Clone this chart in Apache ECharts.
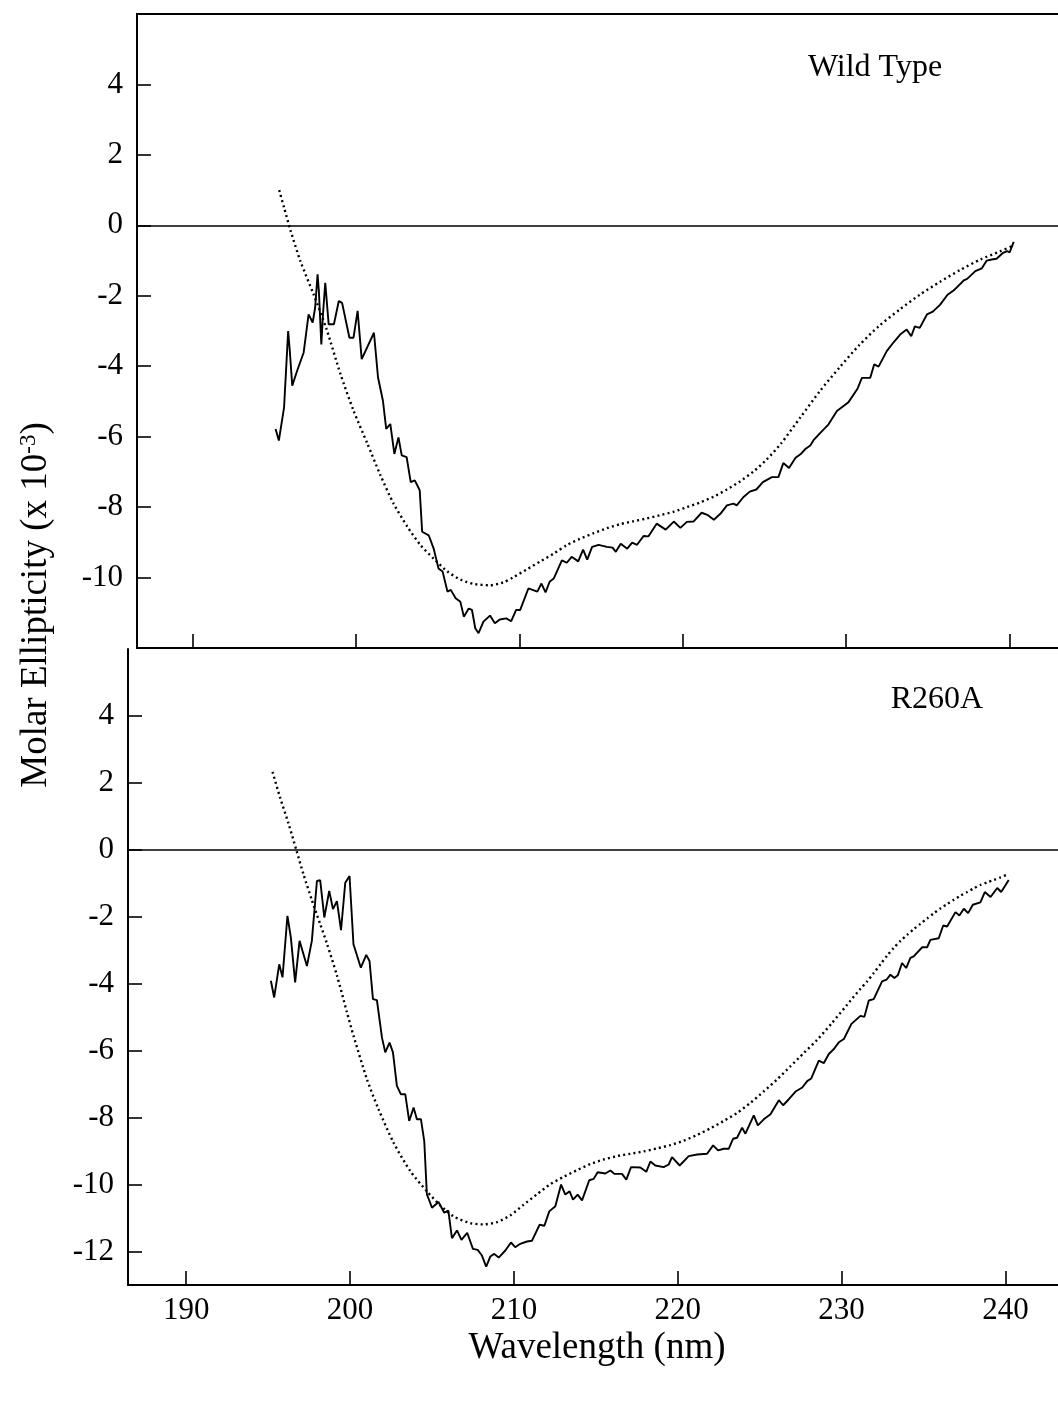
<!DOCTYPE html>
<html>
<head>
<meta charset="utf-8">
<title>CD spectra</title>
<script src="https://cdn.jsdelivr.net/npm/echarts@6/dist/echarts.min.js"></script>
<style>
  html, body { margin: 0; padding: 0; background: #fff; }
  #chart { width: 1058px; height: 1401px; }
</style>
</head>
<body>
<div id="chart"></div>
<script>
// Wavelength ticks (nm) shared by both panels
const wavelengthTicks = [190, 200, 210, 220, 230, 240];
const wildTypeTicks = [4, 2, 0, -2, -4, -6, -8, -10];
const r260aTicks = [4, 2, 0, -2, -4, -6, -8, -10, -12];
const panelNames = ['Wild Type', 'R260A'];

// Wild type: measured spectrum [nm, molar ellipticity x 10^-3]
const wildTypeMeasured = [
  [195.08,-5.78],[195.28,-6.11],[195.6,-5.17],[195.85,-3.0],[195.95,-3.56],[196.1,-4.55],
  [196.4,-4.13],[196.8,-3.61],[197.1,-2.53],[197.35,-2.76],[197.5,-2.34],[197.65,-1.39],
  [197.73,-1.87],[197.88,-3.38],[197.98,-2.53],[198.12,-1.63],[198.33,-2.81],[198.65,-2.81],
  [198.95,-2.15],[199.15,-2.2],[199.6,-3.19],[199.85,-3.19],[200.1,-2.43],[200.35,-3.8],
  [201.1,-3.05],[201.35,-4.32],[201.65,-4.98],[201.85,-5.78],[202.1,-5.64],[202.35,-6.49],
  [202.6,-6.02],[202.8,-6.53],[203.1,-6.58],[203.35,-7.29],[203.6,-7.24],[203.9,-7.52],
  [204.05,-8.7],[204.45,-8.8],[204.75,-9.17],[205.05,-9.74],[205.3,-9.83],[205.6,-10.4],
  [205.8,-10.35],[206.1,-10.59],[206.39,-10.69],[206.6,-11.11],[206.9,-10.88],[207.1,-10.92],
  [207.3,-11.44],[207.5,-11.58],[207.8,-11.25],[208.2,-11.08],[208.5,-11.3],[208.8,-11.19],
  [209.2,-11.16],[209.5,-11.24],[209.8,-10.92],[210.05,-10.92],[210.55,-10.31],[211.1,-10.4],
  [211.35,-10.17],[211.6,-10.42],[211.85,-10.12],[212.1,-10.03],[212.6,-9.51],[212.9,-9.58],
  [213.2,-9.41],[213.6,-9.54],[213.9,-9.21],[214.15,-9.49],[214.45,-9.13],[214.85,-9.07],
  [215.35,-9.13],[215.7,-9.15],[215.9,-9.27],[216.2,-9.04],[216.6,-9.18],[216.9,-9.01],
  [217.2,-9.07],[217.6,-8.82],[217.9,-8.83],[218.4,-8.47],[218.95,-8.64],[219.45,-8.41],
  [219.85,-8.59],[220.25,-8.42],[220.65,-8.41],[221.15,-8.16],[221.5,-8.22],[221.9,-8.36],
  [222.3,-8.19],[222.7,-7.95],[223.1,-7.9],[223.3,-7.95],[223.7,-7.72],[224.1,-7.56],
  [224.5,-7.5],[224.9,-7.29],[225.45,-7.15],[225.85,-7.15],[226.15,-6.75],[226.5,-6.89],
  [226.9,-6.6],[227.2,-6.5],[227.5,-6.35],[227.8,-6.25],[228.0,-6.1],[228.4,-5.9],
  [228.92,-5.65],[229.43,-5.27],[230.14,-5.02],[230.69,-4.64],[230.96,-4.33],[231.47,-4.33],
  [231.71,-3.95],[231.98,-4.01],[232.48,-3.57],[232.9,-3.32],[233.3,-3.1],[233.7,-2.96],
  [233.98,-3.15],[234.2,-2.87],[234.5,-2.91],[234.94,-2.53],[235.3,-2.45],[235.75,-2.25],
  [236.2,-1.97],[236.57,-1.85],[236.77,-1.76],[237.2,-1.56],[237.4,-1.52],[237.9,-1.3],
  [238.3,-1.22],[238.6,-1.0],[238.9,-0.97],[239.2,-0.95],[239.6,-0.78],[239.85,-0.73],
  [240.0,-0.77],[240.25,-0.47]
];

// Wild type: fitted curve
const wildTypeFit = [
  [195.3,1.0],[195.6,0.5],[196.0,-0.15],[196.6,-1.02],[197.4,-1.95],[198.2,-2.95],
  [199.05,-4.22],[199.85,-5.26],[200.7,-6.2],[201.5,-7.1],[202.3,-7.9],[203.15,-8.56],
  [203.95,-9.08],[204.75,-9.46],[205.6,-9.83],[206.4,-10.06],[207.2,-10.18],[208.2,-10.22],
  [209.0,-10.14],[209.6,-10.0],[210.45,-9.77],[211.25,-9.55],[212.1,-9.32],[212.9,-9.08],
  [213.7,-8.9],[214.55,-8.74],[215.35,-8.6],[216.2,-8.48],[217.0,-8.4],[217.8,-8.32],
  [218.6,-8.23],[219.45,-8.13],[220.25,-8.0],[221.1,-7.86],[221.9,-7.7],[222.7,-7.5],
  [223.5,-7.27],[224.35,-6.98],[225.15,-6.64],[226.0,-6.2],[227.2,-5.45],[228.4,-4.7],
  [229.6,-4.03],[230.8,-3.4],[232.0,-2.86],[233.3,-2.38],[234.5,-1.97],[235.75,-1.6],
  [237.0,-1.26],[238.2,-0.97],[239.4,-0.74],[240.2,-0.58]
];

// R260A: measured spectrum
const r260aMeasured = [
  [195.17,-3.91],[195.37,-4.41],[195.68,-3.42],[195.88,-3.81],[196.18,-1.97],[196.39,-2.62],
  [196.65,-3.96],[196.92,-2.72],[197.37,-3.47],[197.67,-2.72],[197.98,-0.93],[198.18,-0.91],
  [198.43,-2.02],[198.73,-1.23],[198.96,-1.77],[199.2,-1.53],[199.45,-2.4],[199.71,-0.98],
  [199.97,-0.78],[200.21,-2.82],[200.66,-3.52],[200.99,-3.14],[201.19,-3.32],[201.4,-4.46],
  [201.64,-4.49],[201.95,-5.61],[202.15,-6.05],[202.41,-5.76],[202.62,-6.05],[202.86,-7.05],
  [203.1,-7.3],[203.37,-7.3],[203.61,-8.1],[203.88,-7.7],[204.08,-8.05],[204.33,-8.05],
  [204.53,-8.7],[204.69,-10.29],[204.85,-10.49],[205.0,-10.69],[205.4,-10.52],[205.75,-10.84],
  [206.0,-10.78],[206.22,-11.6],[206.53,-11.37],[206.8,-11.65],[207.15,-11.44],[207.5,-11.92],
  [207.79,-11.95],[208.05,-12.12],[208.31,-12.45],[208.56,-12.15],[208.8,-12.07],[209.07,-12.18],
  [209.48,-11.97],[209.82,-11.73],[210.08,-11.87],[210.39,-11.77],[210.8,-11.7],[211.1,-11.68],
  [211.57,-11.2],[211.86,-11.23],[212.16,-10.8],[212.53,-10.65],[212.88,-10.0],[213.14,-10.3],
  [213.4,-10.2],[213.61,-10.45],[213.89,-10.3],[214.16,-10.47],[214.6,-9.87],[214.87,-9.83],
  [215.11,-9.63],[215.58,-9.67],[215.89,-9.58],[216.13,-9.68],[216.6,-9.68],[216.86,-9.85],
  [217.15,-9.48],[217.72,-9.49],[218.08,-9.62],[218.33,-9.31],[218.63,-9.43],[219.14,-9.48],
  [219.45,-9.4],[219.65,-9.18],[220.12,-9.43],[220.67,-9.15],[221.18,-9.1],[221.79,-9.08],
  [222.16,-8.83],[222.46,-8.98],[222.81,-8.93],[223.11,-8.93],[223.38,-8.63],[223.62,-8.6],
  [223.93,-8.3],[224.13,-8.48],[224.64,-7.93],[224.89,-8.23],[225.25,-8.05],[225.66,-7.9],
  [226.17,-7.48],[226.43,-7.63],[226.78,-7.45],[227.19,-7.22],[227.6,-7.1],[227.9,-6.91],
  [228.15,-6.83],[228.61,-6.3],[228.92,-6.37],[229.22,-6.1],[229.53,-5.95],[229.83,-5.75],
  [230.14,-5.65],[230.6,-5.2],[231.15,-4.96],[231.39,-4.99],[231.66,-4.5],[231.96,-4.46],
  [232.47,-3.93],[232.74,-3.88],[232.98,-3.73],[233.22,-3.83],[233.43,-3.75],[233.69,-3.38],
  [233.94,-3.53],[234.2,-3.23],[234.4,-3.18],[234.92,-2.91],[235.22,-2.91],[235.42,-2.69],
  [235.93,-2.64],[236.2,-2.26],[236.44,-2.29],[236.95,-1.86],[237.19,-1.96],[237.46,-1.76],
  [237.72,-1.89],[238.01,-1.64],[238.47,-1.57],[238.74,-1.26],[239.09,-1.41],[239.5,-1.14],
  [239.74,-1.26],[240.0,-1.06],[240.2,-0.9]
];

// R260A: fitted curve
const r260aFit = [
  [195.27,2.33],[195.74,1.55],[196.25,0.78],[196.72,0.0],[197.16,-0.73],[197.67,-1.5],
  [198.18,-2.22],[198.59,-2.8],[199.2,-3.75],[199.81,-4.85],[200.21,-5.55],[201.03,-6.85],
  [201.74,-7.75],[202.66,-8.75],[203.68,-9.6],[204.69,-10.2],[205.5,-10.62],[206.32,-10.95],
  [207.34,-11.15],[208.15,-11.19],[208.97,-11.12],[209.78,-10.92],[210.6,-10.6],[211.41,-10.29],
  [212.22,-9.99],[213.03,-9.77],[213.85,-9.57],[214.66,-9.39],[215.48,-9.25],[216.29,-9.15],
  [217.1,-9.08],[217.92,-9.01],[218.73,-8.92],[219.55,-8.82],[220.36,-8.69],[221.17,-8.52],
  [221.99,-8.32],[222.8,-8.1],[223.62,-7.86],[224.43,-7.56],[225.24,-7.22],[226.06,-6.86],
  [226.87,-6.47],[227.69,-6.07],[228.5,-5.68],[229.4,-5.18],[230.3,-4.65],[231.15,-4.15],
  [231.56,-3.93],[231.96,-3.68],[232.37,-3.42],[232.78,-3.16],[233.18,-2.93],[233.59,-2.72],
  [234.0,-2.54],[234.4,-2.37],[234.81,-2.21],[235.22,-2.05],[235.62,-1.9],[236.03,-1.75],
  [236.44,-1.62],[236.85,-1.49],[237.25,-1.37],[237.66,-1.26],[238.07,-1.15],[238.47,-1.05],
  [238.88,-0.97],[239.29,-0.9],[239.7,-0.82],[240.04,-0.75]
];

const SERIF = '"Liberation Serif", "Times New Roman", serif';
const INK = '#000';

function xAxisFor(gridIndex, min, showLabels) {
  return {
    type: 'value', gridIndex: gridIndex, min: min, max: 244,
    splitLine: { show: false },
    axisLine: { show: true, onZero: false, lineStyle: { color: INK, width: 2 } },
    axisTick: { show: true, inside: true, length: 14, customValues: wavelengthTicks,
                lineStyle: { color: INK, width: 1.6 } },
    axisLabel: { show: showLabels, customValues: wavelengthTicks, margin: 10,
                 color: INK, fontFamily: SERIF, fontSize: 31 }
  };
}

function yAxisFor(gridIndex, min, ticks) {
  return {
    type: 'value', gridIndex: gridIndex, min: min, max: 6,
    splitLine: { show: false },
    axisLine: { show: true, lineStyle: { color: INK, width: 2 } },
    axisTick: { show: true, inside: true, length: 14, customValues: ticks,
                lineStyle: { color: INK, width: 1.6 } },
    axisLabel: { customValues: ticks, margin: 14, color: INK,
                 fontFamily: SERIF, fontSize: 31 }
  };
}

const zeroLine = {
  silent: true, symbol: ['none', 'none'], animation: false,
  label: { show: false },
  lineStyle: { color: INK, width: 1.6, type: 'solid' },
  data: [{ yAxis: 0 }]
};

function measured(data, idx) {
  return {
    type: 'line', data: data, xAxisIndex: idx, yAxisIndex: idx,
    showSymbol: false, smooth: false,
    lineStyle: { color: INK, width: 1.9 },
    markLine: zeroLine
  };
}

function fitted(data, idx) {
  return {
    type: 'line', data: data, xAxisIndex: idx, yAxisIndex: idx,
    showSymbol: false, smooth: 0.25,
    lineStyle: { color: INK, width: 2.4, type: [2, 3.2] }
  };
}

const chart = echarts.init(document.getElementById('chart'), null, { renderer: 'canvas' });

chart.setOption({
  backgroundColor: '#fff',
  animation: false,
  grid: [
    { left: 137, top: 14, width: 938, height: 634, show: true, outerBoundsMode: 'none',
      borderColor: INK, borderWidth: 2, backgroundColor: 'transparent' },
    { left: 128, top: 649, width: 943, height: 636, outerBoundsMode: 'none' }
  ],
  xAxis: [ xAxisFor(0, 186.6, false), xAxisFor(1, 186.45, true) ],
  yAxis: [ yAxisFor(0, -12, wildTypeTicks), yAxisFor(1, -13, r260aTicks) ],
  series: [
    measured(wildTypeMeasured, 0),
    fitted(wildTypeFit, 0),
    measured(r260aMeasured, 1),
    fitted(r260aFit, 1)
  ],
  graphic: [
    { type: 'text', x: 875, y: 68,
      style: { text: panelNames[0], font: '32px ' + SERIF, fill: INK,
               textAlign: 'center', textVerticalAlign: 'middle' } },
    { type: 'text', x: 937, y: 700,
      style: { text: panelNames[1], font: '32px ' + SERIF, fill: INK,
               textAlign: 'center', textVerticalAlign: 'middle' } },
    { type: 'text', x: 597, y: 1348,
      style: { text: 'Wavelength (nm)', font: '37px ' + SERIF, fill: INK,
               textAlign: 'center', textVerticalAlign: 'middle' } },
    { type: 'text', x: 36, y: 605, rotation: Math.PI / 2,
      style: { text: 'Molar Ellipticity (x 10{sup|-3})', font: '37px ' + SERIF, fill: INK,
               textAlign: 'center', textVerticalAlign: 'middle',
               rich: { sup: { font: '23px ' + SERIF, fill: INK, verticalAlign: 'top', padding: [0, 0, 10, 0] } } } }
  ]
});
</script>
</body>
</html>
